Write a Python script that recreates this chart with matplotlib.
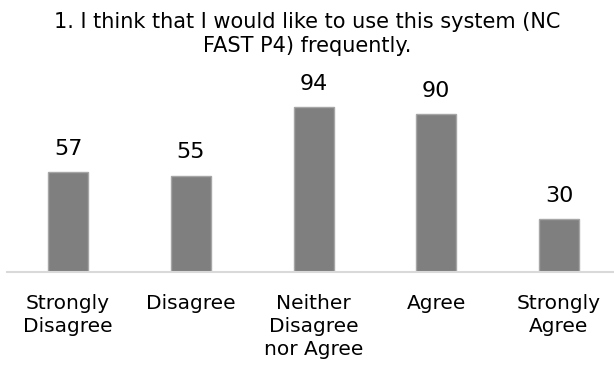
import matplotlib
matplotlib.use("Agg")
import matplotlib.pyplot as plt

categories = ["Strongly\nDisagree", "Disagree", "Neither\nDisagree\nnor Agree", "Agree", "Strongly\nAgree"]
values = [57, 55, 94, 90, 30]
title = "1. I think that I would like to use this system (NC\nFAST P4) frequently."

plt.rcParams['font.family'] = ['DejaVu Sans']

W, H = 614, 373
fig = plt.figure(figsize=(W/100, H/100), dpi=100)
left_px, right_px = 7, 614
base_px, top_px = 271.5, 80
ax = fig.add_axes([left_px/W, 1 - base_px/H, (right_px-left_px)/W, (base_px-top_px)/H])

x = list(range(len(values)))
spacing = 122.75
xmin = -(68 - left_px)/spacing
xmax = xmin + (right_px-left_px)/spacing
ax.set_xlim(xmin, xmax)
ax.set_ylim(0, (base_px-top_px)/1.745)

bars = ax.bar(x, values, width=40/spacing, color="#7f7f7f", edgecolor="#a6a6a6", linewidth=1.0)
for b, v in zip(bars, values):
    ax.annotate(str(v), (b.get_x()+b.get_width()/2, v), xytext=(0, 12.5), textcoords="offset points",
                ha="center", va="baseline", fontsize=16, color="#000000")

for s in ["top", "right", "left"]:
    ax.spines[s].set_visible(False)
ax.spines["bottom"].set_color("#d9d9d9")
ax.spines["bottom"].set_linewidth(1.5)
ax.set_yticks([])
ax.set_xticks(x)
ax.set_xticklabels(categories, fontsize=14.5, linespacing=1.27, va="top")
ax.tick_params(axis="x", length=0, pad=16)

fig.text(307/W, 1 - 12/H, title, ha="center", va="top", fontsize=15, linespacing=1.25)

fig.savefig("out.png", dpi=100, facecolor="white")
